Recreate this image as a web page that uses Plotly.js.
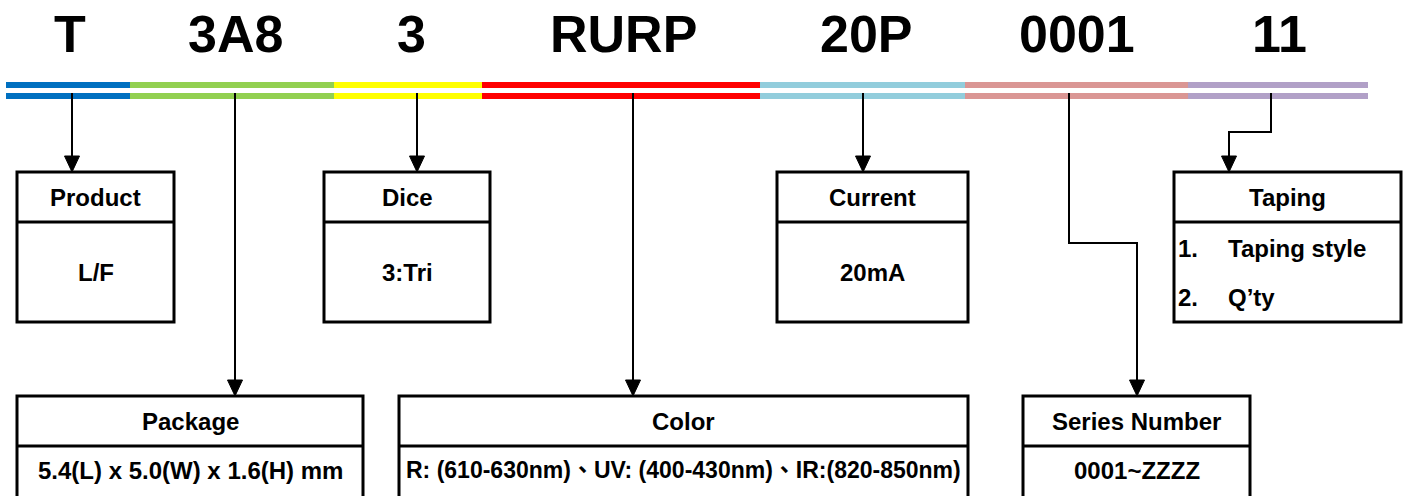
<!DOCTYPE html>
<html>
<head>
<meta charset="utf-8">
<script src="https://cdn.plot.ly/plotly-3.0.1.min.js"></script>
<style>html,body{margin:0;padding:0;background:#fff;}#chart{width:1408px;height:496px;}</style>
</head>
<body>
<div id="chart"></div>
<script>
// ---- content ----
const codes = ['T', '3A8', '3', 'RURP', '20P', '0001', '11'];
const segColors = ['#0070C0', '#92D050', '#FFFF00', '#FF0000', '#92CDDC', '#DA9694', '#B1A0C7'];
const topBoxTitles = ['Product', 'Dice', 'Current', 'Taping'];
const topBoxContents = ['L/F', '3:Tri', '20mA', ''];
const tapingItems = ['1.', '2.'];
const tapingLabels = ['Taping style', 'Q\u2019ty'];
const bottomBoxTitles = ['Package', 'Color', 'Series Number'];
const bottomBoxContents = ['5.4(L) x 5.0(W) x 1.6(H) mm', 'R: (610-630nm)\u3001UV: (400-430nm)\u3001IR:(820-850nm)', '0001~ZZZZ'];

// ---- layout geometry (pixels) ----
const W = 1408, H = 496;
const segEdges = [6, 130, 334, 482, 760, 965, 1188, 1368];
const codeX = [70, 235, 411, 623, 866, 1077, 1279];
const codeY = 34;
const bar1 = [82, 88], bar2 = [93, 99];
const topBoxX = [[17, 174], [324, 490], [777, 968], [1174, 1401]];
const topRow = {top: 172, div: 222, bot: 322};
const bottomBoxX = [[17, 363], [399, 968], [1023, 1250]];
const botRow = {top: 396, div: 446, bot: 530};
const bottomContentSize = [24, 23, 24];
// leader paths: list of points; arrow tip at the last point (box top)
const leaders = [
  {pts: [[72, 93], [72, 172]]},
  {pts: [[235, 93], [235, 396]]},
  {pts: [[417, 93], [417, 172]]},
  {pts: [[633, 93], [633, 396]]},
  {pts: [[863, 93], [863, 172]]},
  {pts: [[1069, 93], [1069, 243], [1137, 243], [1137, 396]]},
  {pts: [[1271, 93], [1271, 132], [1229, 132], [1229, 172]]}
];
const AH = 16, AW = 7.5;
const FONT = 'Liberation Sans, Arial, Noto Sans CJK TC, sans-serif';

const shapes = [];
const annotations = [];

// color bars
for (let i = 0; i < segColors.length; i++) {
  [bar1, bar2].forEach(b => {
    shapes.push({type: 'rect', xref: 'x', yref: 'y', x0: segEdges[i], x1: segEdges[i + 1], y0: b[0], y1: b[1],
      fillcolor: segColors[i], line: {width: 0}, layer: 'below'});
  });
}
// codes
codes.forEach((c, i) => {
  annotations.push({x: codeX[i], y: codeY, xref: 'x', yref: 'y', text: '<b>' + c + '</b>', showarrow: false,
    xanchor: 'center', yanchor: 'middle', font: {family: FONT, size: 52, color: '#000'}});
});
// leaders with arrowheads
leaders.forEach(l => {
  const p = l.pts.slice();
  const tip = p[p.length - 1];
  const base = [tip[0], tip[1] - AH];
  p[p.length - 1] = base;
  const d = 'M ' + p.map(q => q[0] + ' ' + q[1]).join(' L ');
  shapes.push({type: 'path', xref: 'x', yref: 'y', path: d, line: {color: '#000', width: 2}});
  shapes.push({type: 'path', xref: 'x', yref: 'y',
    path: `M ${tip[0] - AW} ${base[1]} L ${tip[0] + AW} ${base[1]} L ${tip[0]} ${tip[1]} Z`,
    fillcolor: '#000', line: {color: '#000', width: 1}});
});
// boxes
function box(x0, x1, row) {
  shapes.push({type: 'rect', xref: 'x', yref: 'y', x0: x0, x1: x1, y0: row.top, y1: row.bot,
    line: {color: '#000', width: 3}, fillcolor: 'rgba(0,0,0,0)'});
  shapes.push({type: 'line', xref: 'x', yref: 'y', x0: x0, x1: x1, y0: row.div, y1: row.div,
    line: {color: '#000', width: 3}});
}
function label(x, y, t, anchor, size) {
  annotations.push({x: x, y: y, xref: 'x', yref: 'y', text: '<b>' + t + '</b>', showarrow: false,
    xanchor: anchor || 'center', yanchor: 'middle', font: {family: FONT, size: size || 24, color: '#000'}});
}
topBoxX.forEach((bx, i) => {
  box(bx[0], bx[1], topRow);
  const cx = (bx[0] + bx[1]) / 2;
  label(cx, (topRow.top + topRow.div) / 2, topBoxTitles[i]);
  if (topBoxContents[i]) label(cx, (topRow.div + topRow.bot) / 2, topBoxContents[i]);
});
// taping list
const tapRowY = [248, 297];
tapingItems.forEach((it, i) => {
  label(1176, tapRowY[i], it, 'left');
  label(1226, tapRowY[i], tapingLabels[i], 'left');
});
bottomBoxX.forEach((bx, i) => {
  box(bx[0], bx[1], botRow);
  const cx = (bx[0] + bx[1]) / 2;
  label(cx, (botRow.top + botRow.div) / 2, bottomBoxTitles[i]);
  label(cx, botRow.div + 24, bottomBoxContents[i], 'center', bottomContentSize[i]);
});

const layout = {
  width: W, height: H,
  margin: {l: 0, r: 0, t: 0, b: 0, pad: 0},
  paper_bgcolor: '#fff', plot_bgcolor: '#fff',
  showlegend: false,
  xaxis: {range: [0, W], visible: false, fixedrange: true},
  yaxis: {range: [H, 0], visible: false, fixedrange: true},
  shapes: shapes,
  annotations: annotations
};
const traces = [{x: [0], y: [0], type: 'scatter', mode: 'markers', marker: {opacity: 0}, hoverinfo: 'skip'}];
Plotly.newPlot('chart', traces, layout, {staticPlot: true, displayModeBar: false});
</script>
</body>
</html>
